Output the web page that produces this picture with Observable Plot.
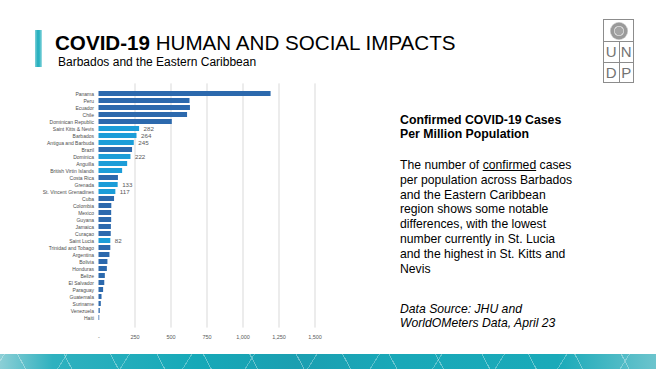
<!DOCTYPE html>
<html><head><meta charset="utf-8">
<script src="https://cdn.jsdelivr.net/npm/d3@7"></script>
<script src="https://cdn.jsdelivr.net/npm/@observablehq/plot@0.6"></script>
<style>
html,body{margin:0;padding:0;background:#fff;}
body{width:656px;height:369px;position:relative;overflow:hidden;font-family:"Liberation Sans",Arial,sans-serif;color:#000;}
#accent{position:absolute;left:35px;top:30px;width:7px;height:37px;background:linear-gradient(90deg,#7fd0d8 0%,#22aebd 40%,#3bb9c6 70%,#a6dfe4 100%);}
#title{position:absolute;left:55px;top:31px;font-size:20.6px;white-space:nowrap;line-height:24px;}
#title b{font-weight:bold;}
#subtitle{position:absolute;left:58px;top:55px;font-size:12px;white-space:nowrap;}
#chart{position:absolute;left:0;top:78px;}
#heading{position:absolute;left:400px;top:114px;font-size:12.3px;font-weight:bold;line-height:13.7px;}
#body{position:absolute;left:400px;top:158px;font-size:12.2px;line-height:14.8px;width:240px;}
#body u{text-decoration:underline;}
#source{position:absolute;left:400px;top:302px;font-size:12.2px;line-height:14.4px;font-style:italic;}
#logo{position:absolute;left:603px;top:19px;width:31px;height:64px;border:1px solid #8c8c8c;box-sizing:border-box;}
#logo .em{position:absolute;left:0;top:0;width:29px;height:21px;border-bottom:1px solid #8c8c8c;}
#logo .em div{position:absolute;left:5.5px;top:1.5px;width:18px;height:18px;border-radius:50%;background:radial-gradient(circle,#a5a5a5 0 30%,#d0d0d0 31% 40%,#9a9a9a 41% 62%,#bdbdbd 63% 100%);}
#logo .cell{position:absolute;width:14.5px;height:21px;font-size:15px;line-height:21px;text-align:center;color:#737373;font-family:"Liberation Sans",Arial,sans-serif;}
#band{position:absolute;left:0;top:354px;width:656px;height:15px;
background:
 repeating-linear-gradient(62deg,rgba(255,255,255,0) 0 22px,rgba(255,255,255,0.35) 22px 23px,rgba(255,255,255,0) 23px 41px),
 repeating-linear-gradient(-58deg,rgba(255,255,255,0) 0 30px,rgba(255,255,255,0.3) 30px 31px,rgba(255,255,255,0) 31px 53px),
 linear-gradient(90deg,#8ccfd6 0%,#2fb1bf 8%,#16a9b8 30%,#1b9fb1 45%,#19a8b8 60%,#1aaab9 85%,#6cc4cd 100%);}
</style></head><body>
<div id="accent"></div>
<div id="title"><b>COVID-19</b> HUMAN AND SOCIAL IMPACTS</div>
<div id="subtitle">Barbados and the Eastern Caribbean</div>
<div id="chart"></div>
<div id="heading">Confirmed COVID-19 Cases<br>Per Million Population</div>
<div id="body">The number of <u>confirmed</u> cases<br>per population across Barbados<br>and the Eastern Caribbean<br>region shows some notable<br>differences, with the lowest<br>number currently in St. Lucia<br>and the highest in St. Kitts and<br>Nevis</div>
<div id="source">Data Source: JHU and<br>WorldOMeters Data, April 23</div>
<div id="logo"><div class="em"><div></div></div>
<div class="cell" style="left:0;top:21px;border-right:1px solid #8c8c8c;border-bottom:1px solid #8c8c8c;">U</div>
<div class="cell" style="left:15px;top:21px;border-bottom:1px solid #8c8c8c;">N</div>
<div class="cell" style="left:0;top:42px;border-right:1px solid #8c8c8c;">D</div>
<div class="cell" style="left:15px;top:42px;">P</div>
</div>
<div id="band"></div>
<script>
const countries = ["Panama","Peru","Ecuador","Chile","Dominican Republic","Saint Kitts & Nevis","Barbados","Antigua and Barbuda","Brazil","Dominica","Anguilla","British Virtin Islands","Costa Rica","Grenada","St. Vincent Grenadines","Cuba","Colombia","Mexico","Guyana","Jamaica","Curaçao","Saint Lucia","Trinidad and Tobago","Argentina","Bolivia","Honduras","Belize","El Salvador","Paraguay","Guatemala","Suriname","Venezuela","Haiti"];
const casesPerMillion = [1195,632,635,615,509,282,264,245,233,222,199,164,135,133,117,108,89,88,88,86,85,82,82,76,62,58,44,40,32,21,16,9,5];
const eastCaribbean = ["Saint Kitts & Nevis","Barbados","Antigua and Barbuda","Dominica","Anguilla","British Virtin Islands","Grenada","St. Vincent Grenadines","Saint Lucia"];
const labelled = ["Saint Kitts & Nevis","Barbados","Antigua and Barbuda","Dominica","Grenada","St. Vincent Grenadines","Saint Lucia"];
const xTicks = [0,250,500,750,1000,1250,1500];
const groupNames = ["Other","Barbados & Eastern Caribbean"];
const groupColors = ["#2c69ad","#1c9dd8"];

const data = countries.map((c,i)=>({country:c,value:casesPerMillion[i],group:eastCaribbean.includes(c)?groupNames[1]:groupNames[0]}));
const chart = Plot.plot({
  width:334,height:271,
  marginLeft:98.5,marginRight:19.5,marginTop:5.4,marginBottom:21.4,
  style:{fontFamily:"Liberation Sans, Arial, sans-serif",color:"#595959",background:"transparent",overflow:"visible"},
  x:{domain:[0,1500],label:null},
  y:{domain:countries,padding:0.3,label:null},
  color:{domain:groupNames,range:groupColors},
  marks:[
    Plot.ruleX(xTicks.filter(d=>d>0),{stroke:"#d9d9d9",strokeWidth:1}),
    Plot.barX(data,{y:"country",x:"value",fill:"group"}),
    Plot.text(data.filter(d=>labelled.includes(d.country)),{y:"country",x:"value",text:d=>String(d.value),dx:4,textAnchor:"start",fontSize:6.2,fill:"#595959"}),
    Plot.axisX({ticks:xTicks,tickFormat:d=>d===0?"-":d3.format(",")(d),tickSize:0,tickPadding:6.5,fontSize:5.5,label:null,fill:"#595959"}),
    Plot.axisY({tickSize:0,tickPadding:5,fontSize:5,label:null,fill:"#4d4d4d"})
  ]
});
document.getElementById("chart").appendChild(chart);
</script>
</body></html>
